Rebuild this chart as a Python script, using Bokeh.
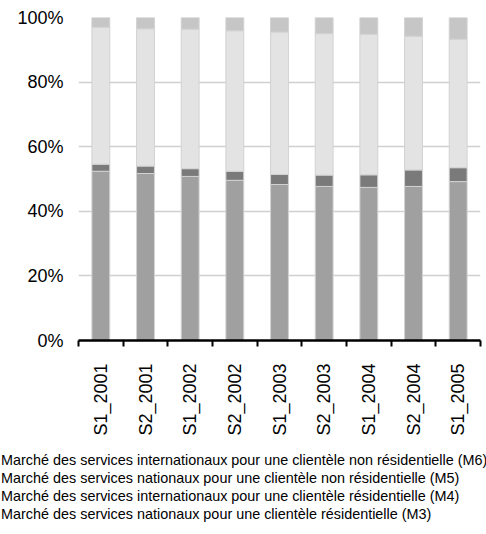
import math
from bokeh.plotting import figure
from bokeh.layouts import column
from bokeh.models import (Range1d, FixedTicker, PrintfTickFormatter, Legend,
                          LegendItem, ColumnDataSource)
from bokeh.embed import file_html
from bokeh.resources import INLINE

categories = ["S1_2001", "S2_2001", "S1_2002", "S2_2002", "S1_2003",
              "S2_2003", "S1_2004", "S2_2004", "S1_2005"]
m3 = [52.4, 51.7, 50.8, 49.6, 48.3, 47.7, 47.4, 47.7, 49.2]
m4 = [2.2, 2.3, 2.4, 2.8, 3.1, 3.5, 3.9, 5.1, 4.3]
m5 = [42.4, 42.5, 43.2, 43.5, 44.1, 43.8, 43.5, 41.4, 39.8]
m6 = [3.0, 3.5, 3.6, 4.1, 4.5, 5.0, 5.2, 5.8, 6.7]
series_keys = ["m3", "m4", "m5", "m6"]
series_names = [
    "Marché des services nationaux pour une clientèle résidentielle (M3)",
    "Marché des services internationaux pour une clientèle résidentielle (M4)",
    "Marché des services nationaux pour une clientèle non résidentielle (M5)",
    "Marché des services internationaux pour une clientèle non résidentielle (M6)",
]
colors = ["#a0a0a0", "#7a7a7a", "#e3e3e3", "#c6c6c6"]
y_ticks = [0, 20, 40, 60, 80, 100]

FONT = "Liberation Sans"

x = list(range(len(categories)))
source = ColumnDataSource(dict(x=x, m3=m3, m4=m4, m5=m5, m6=m6))

p = figure(width=486, height=440,
           x_range=Range1d(-0.5, len(categories) - 0.5),
           y_range=Range1d(0, 100),
           output_backend="svg", toolbar_location=None,
           min_border_left=78, min_border_right=6,
           min_border_top=17, min_border_bottom=100)
p.outline_line_color = None

renderers = p.vbar_stack(series_keys, x="x", width=0.4, source=source,
                         fill_color=colors, line_color="#d2d2d2", line_width=1)

# y axis
p.yaxis.ticker = FixedTicker(ticks=y_ticks)
p.yaxis.formatter = PrintfTickFormatter(format="%d%%")
p.yaxis.axis_line_color = None
p.yaxis.major_tick_line_color = None
p.yaxis.minor_tick_line_color = None
p.yaxis.major_tick_out = 0
p.yaxis.major_tick_in = 0
p.yaxis.major_label_standoff = 15
p.yaxis.major_label_text_font = FONT
p.yaxis.major_label_text_font_size = "18px"
p.yaxis.major_label_text_color = "black"

# x axis
p.xaxis.ticker = FixedTicker(ticks=x,
                             minor_ticks=[i - 0.5 for i in range(len(categories) + 1)])
p.xaxis.major_label_overrides = {i: c for i, c in enumerate(categories)}
p.xaxis.major_label_orientation = math.pi / 2
p.xaxis.axis_line_color = "black"
p.xaxis.axis_line_width = 2.5
p.xaxis.major_tick_line_color = None
p.xaxis.major_tick_out = 0
p.xaxis.major_tick_in = 0
p.xaxis.minor_tick_line_color = "black"
p.xaxis.minor_tick_line_width = 2
p.xaxis.minor_tick_out = 6
p.xaxis.minor_tick_in = 0
p.xaxis.major_label_standoff = 17
p.xaxis.major_label_text_font = FONT
p.xaxis.major_label_text_font_size = "18px"
p.xaxis.major_label_text_color = "black"

# grid
p.xgrid.grid_line_color = None
p.ygrid.grid_line_color = "#d0d0d0"
p.ygrid.grid_line_width = 1.5

# legend panel: a second figure whose frame is the whole canvas; the
# swatches sit just left of the frame, so they are clipped like the reference
lf = figure(width=486, height=94, output_backend="svg", toolbar_location=None,
            x_axis_location=None, y_axis_location=None,
            min_border_left=0, min_border_right=0,
            min_border_top=0, min_border_bottom=0,
            x_range=Range1d(0, 1), y_range=Range1d(0, 1))
lf.outline_line_color = None
lf.xgrid.grid_line_color = None
lf.ygrid.grid_line_color = None
empty = ColumnDataSource(dict(x=[], m3=[], m4=[], m5=[], m6=[]))
lrs = lf.vbar_stack(series_keys, x="x", width=0.4, source=empty,
                    fill_color=colors, line_color="#d2d2d2", line_width=1)
items = [LegendItem(label=n, renderers=[r]) for n, r in zip(series_names, lrs)][::-1]
legend = Legend(items=items, location=(-24, 11),
                glyph_width=20, glyph_height=18, label_height=18,
                label_standoff=5, spacing=0, padding=0, margin=0,
                border_line_color=None, background_fill_alpha=0,
                label_text_font=FONT, label_text_font_size="14.4px",
                label_text_color="black")
lf.add_layout(legend)

# keep each figure's own frame (no frame alignment across the column)
for fig in (p, lf):
    if "frame_align" in fig.properties():
        fig.frame_align = False

layout = column(p, lf, spacing=0)
open("out.html", "w").write(file_html(layout, INLINE))
